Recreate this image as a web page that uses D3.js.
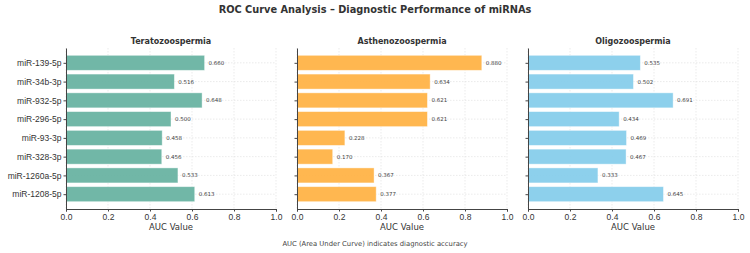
<!DOCTYPE html>
<html>
<head>
<meta charset="utf-8">
<script src="https://cdn.jsdelivr.net/npm/d3@7/dist/d3.min.js"></script>
<style>
  body { margin: 0; background: #fff; }
  svg { display: block; font-family: "DejaVu Sans", sans-serif; }
  .grid line { stroke: #dedede; stroke-dasharray: 1.5,1.5; stroke-width: 0.6; }
</style>
</head>
<body>
<svg id="chart" width="750" height="253"></svg>
<script>
const mirnas = ["miR-139-5p", "miR-34b-3p", "miR-932-5p", "miR-296-5p",
                "miR-93-3p", "miR-328-3p", "miR-1260a-5p", "miR-1208-5p"];
const conditions = ["Teratozoospermia", "Asthenozoospermia", "Oligozoospermia"];
const teratoAuc = [0.660, 0.516, 0.648, 0.500, 0.458, 0.456, 0.533, 0.613];
const asthenoAuc = [0.880, 0.634, 0.621, 0.621, 0.228, 0.170, 0.367, 0.377];
const oligoAuc = [0.535, 0.502, 0.691, 0.434, 0.469, 0.467, 0.333, 0.645];
const colours = ["#69b3a2", "#ffb347", "#87ceeb"];
const xTicks = [0, 0.2, 0.4, 0.6, 0.8, 1.0];

const series = [teratoAuc, asthenoAuc, oligoAuc];
const svg = d3.select("#chart");

const panelLeft = [66, 297, 528];
const panelW = 210;
const plotTop = 48, plotBottom = 209;

// matplotlib barh: bars at 0..7, height 0.8, 5% margins
const y = d3.scaleLinear().domain([-0.79, 7.79]).range([plotTop, plotBottom]);
const barH = Math.abs(y(0.4) - y(-0.4));

svg.append("text")
  .attr("x", 375).attr("y", 13)
  .attr("text-anchor", "middle")
  .attr("font-size", 9.8).attr("font-weight", "bold").attr("fill", "#333")
  .text("ROC Curve Analysis – Diagnostic Performance of miRNAs");

series.forEach((vals, p) => {
  const x = d3.scaleLinear().domain([0, 1]).range([panelLeft[p], panelLeft[p] + panelW]);
  const g = svg.append("g");

  // grid
  const grid = g.append("g").attr("class", "grid");
  grid.selectAll("line.v").data(xTicks).join("line").attr("class", "v")
    .attr("x1", d => x(d)).attr("x2", d => x(d)).attr("y1", plotTop).attr("y2", plotBottom);
  grid.selectAll("line.h").data(mirnas).join("line").attr("class", "h")
    .attr("x1", x(0)).attr("x2", x(1)).attr("y1", (d, i) => y(i)).attr("y2", (d, i) => y(i));

  // bars
  g.selectAll("rect").data(vals).join("rect")
    .attr("x", x(0))
    .attr("y", (d, i) => y(i) - barH / 2)
    .attr("width", d => x(d) - x(0))
    .attr("height", barH)
    .attr("fill", colours[p]).attr("fill-opacity", 0.95)
    .attr("stroke", "#fff").attr("stroke-opacity", 0.5).attr("stroke-width", 0.8);

  // value labels
  g.selectAll("text.val").data(vals).join("text").attr("class", "val")
    .attr("x", d => x(d) + 4)
    .attr("y", (d, i) => y(i))
    .attr("dy", "0.35em")
    .attr("font-size", 5.5).attr("fill", "#444")
    .text(d => d.toFixed(3));

  // x axis
  const xa = g.append("g").attr("transform", `translate(0,${plotBottom})`)
    .call(d3.axisBottom(x).tickValues(xTicks).tickFormat(d3.format(".1f")).tickSize(2.5).tickPadding(2));
  xa.select(".domain").attr("stroke", "#444").attr("stroke-width", 1);
  xa.selectAll(".tick line").attr("stroke", "#444");
  xa.selectAll("text").attr("font-size", 8.5).attr("fill", "#333");

  // y axis
  const ya = g.append("g").attr("transform", `translate(${x(0)},0)`)
    .call(d3.axisLeft(y).tickValues(d3.range(mirnas.length))
      .tickFormat(i => p === 0 ? mirnas[i] : "").tickSize(2.5).tickPadding(2).tickSizeOuter(0));
  ya.select(".domain").attr("stroke", "#444").attr("stroke-width", 1);
  ya.selectAll(".tick line").attr("stroke", "#444");
  ya.selectAll("text").attr("font-size", 8.5).attr("fill", "#333");

  svg.append("text")
    .attr("x", x(0.5)).attr("y", 44)
    .attr("text-anchor", "middle")
    .attr("font-size", 8).attr("font-weight", "bold").attr("fill", "#333")
    .text(conditions[p]);

  svg.append("text")
    .attr("x", x(0.5)).attr("y", 230)
    .attr("text-anchor", "middle")
    .attr("font-size", 8.5).attr("fill", "#333")
    .text("AUC Value");
});

svg.append("text")
  .attr("x", 375).attr("y", 246)
  .attr("text-anchor", "middle")
  .attr("font-size", 6.8).attr("fill", "#444")
  .text("AUC (Area Under Curve) indicates diagnostic accuracy");
</script>
</body>
</html>
